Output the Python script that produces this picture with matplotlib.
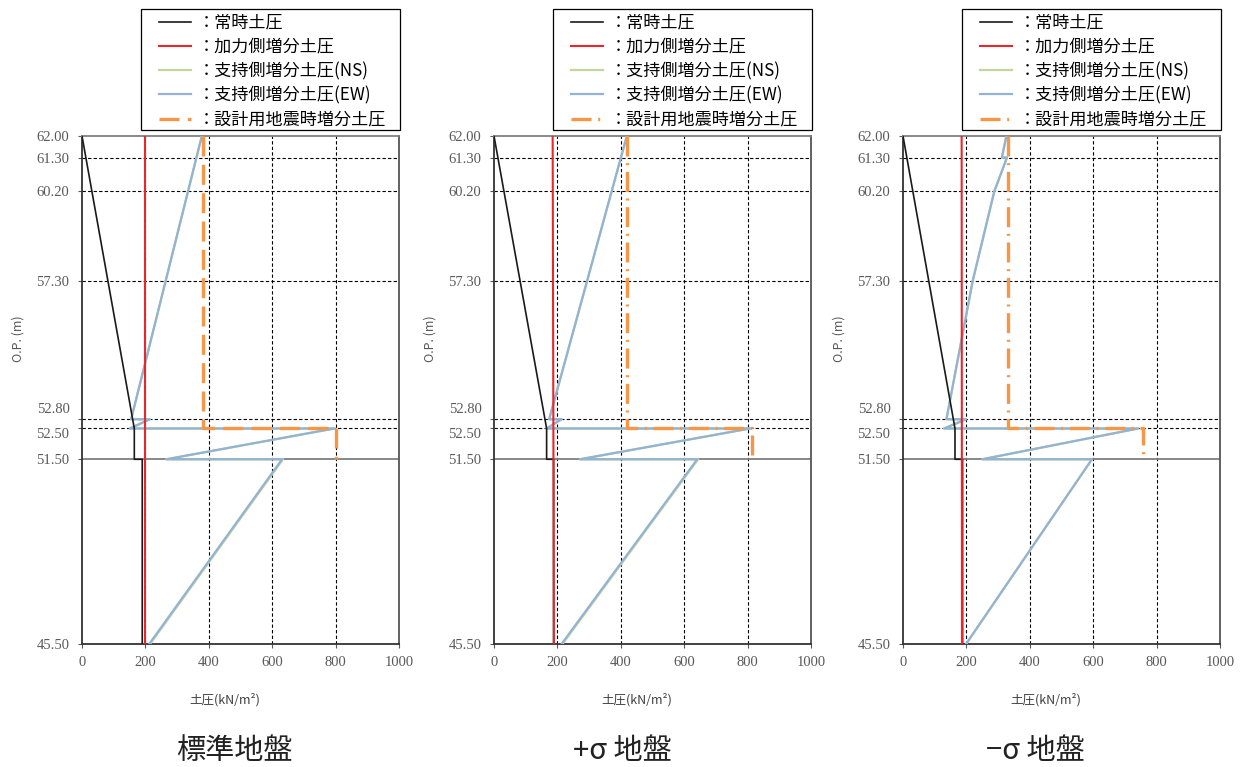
import matplotlib
matplotlib.use("Agg")
import matplotlib.pyplot as plt
from matplotlib.patches import Rectangle
from matplotlib.transforms import ScaledTranslation

plt.rcParams["font.family"] = ["Noto Sans CJK JP", "DejaVu Sans"]

# depth levels (O.P., m)
y_ticks = [62.00, 61.30, 60.20, 57.30, 52.80, 52.50, 51.50, 45.50]
x_ticks = [0, 200, 400, 600, 800, 1000]
grid_x = [200, 400, 600, 800]
grid_y = [61.30, 60.20, 57.30, 52.80, 52.50]
ground_y = 51.50

titles = ["標準地盤", "+σ 地盤", "−σ 地盤"]
labels = ["：常時土圧", "：加力側増分土圧", "：支持側増分土圧(NS)",
          "：支持側増分土圧(EW)", "：設計用地震時増分土圧"]

# 常時土圧
normal_y = [62.0, 52.5, 51.5, 51.5, 45.5]
normal_x = [
    [0, 165, 165, 190, 190],
    [0, 166, 166, 188, 188],
    [0, 164, 164, 188, 188],
]

# 加力側増分土圧
load_y = [62.0, 45.5]
load_x = [
    [200, 200],
    [185, 189],
    [185, 186],
]

# 支持側増分土圧 (NS / EW)
support_y = [
    [62.0, 52.8, 52.8, 52.5, 52.5, 51.5, 51.5, 45.5],
    [62.0, 52.8, 52.8, 52.5, 52.5, 51.5, 51.5, 45.5],
    [62.0, 61.3, 61.3, 60.2, 57.3, 52.8, 52.8, 52.5, 52.5, 51.5, 51.5, 45.5],
]
support_ew_x = [
    [378, 155, 214, 151, 796, 266, 631, 212],
    [419, 174, 213, 166, 808, 271, 641, 213],
    [326, 312, 328, 288, 220, 137, 199, 130, 742, 250, 596, 199],
]
support_ns_x = [
    [378, 155, 214, 151, 796, 266, 634, 215],
    [419, 174, 213, 166, 808, 271, 644, 216],
    [326, 312, 328, 288, 220, 137, 199, 130, 742, 250, 596, 199],
]

# 設計用地震時増分土圧
design_y = [62.0, 52.5, 52.5, 51.5]
design_x = [
    [381, 381, 801, 801],
    [421, 421, 813, 813],
    [330, 330, 756, 756],
]

C_BLACK = "#1a1a1a"
C_RED = "#e8262b"
C_NS = "#c3d69b"
C_EW = "#93b3d3"
C_ORANGE = "#f79646"
C_TICK = "#595959"

W, H = 1247, 767
fig = plt.figure(figsize=(W / 100, H / 100), dpi=100)
lefts = [82, 494, 903]
ax_w, ax_top, ax_bot = 317, 136, 644
title_cx = [234, 622, 1035]
design_ls = [(0, (6, 2.5)), (0, (6, 2, 0.6, 2)), (0, (6, 2, 0.6, 2))]
# nudges for the crowded tick labels (px)
label_shift = {52.80: 11, 52.50: -5}

for i in range(3):
    ax = fig.add_axes([lefts[i] / W, 1 - ax_bot / H, ax_w / W, (ax_bot - ax_top) / H])
    ax.set_xlim(0, 1000)
    ax.set_ylim(45.5, 62.0)

    for gx in grid_x:
        ax.axvline(gx, color="black", lw=0.8, ls=(0, (3, 2)), zorder=1)
    for gy in grid_y:
        ax.axhline(gy, color="black", lw=0.8, ls=(0, (3, 2)), zorder=1)
    ax.axhline(ground_y, color="#7f7f7f", lw=1.3, zorder=1)

    ax.plot(normal_x[i], normal_y, color=C_BLACK, lw=1.2, label=labels[0], zorder=4)
    ax.plot(load_x[i], load_y, color=C_RED, lw=1.5, label=labels[1], zorder=4)
    ax.plot(support_ns_x[i], support_y[i], color=C_NS, lw=1.6, label=labels[2], zorder=3)
    ax.plot(support_ew_x[i], support_y[i], color=C_EW, lw=1.6, label=labels[3], zorder=3)
    ax.plot(design_x[i], design_y, color=C_ORANGE, lw=2.4, ls=design_ls[i],
            label=labels[4], zorder=5)

    ax.set_yticks(y_ticks)
    ax.set_yticklabels([f"{v:.2f}" for v in y_ticks])
    ax.set_xticks(x_ticks)
    ax.set_xticklabels([str(v) for v in x_ticks])
    ax.tick_params(labelsize=10.5, colors=C_TICK, length=3, width=0.8, pad=6)
    for lab in ax.get_xticklabels() + ax.get_yticklabels():
        lab.set_family("Liberation Serif")
    for v, lab in zip(y_ticks, ax.get_yticklabels()):
        if v in label_shift:
            lab.set_transform(lab.get_transform() +
                              ScaledTranslation(0, label_shift[v] / 100, fig.dpi_scale_trans))

    ax.spines["left"].set_color("#333333")
    ax.spines["bottom"].set_color("#333333")
    ax.spines["top"].set_color("#7f7f7f")
    ax.spines["right"].set_color("#555555")
    for s in ax.spines.values():
        s.set_linewidth(1.3)

    # legend box drawn by hand so the padding can match the original
    box_r = lefts[i] + ax_w + 1
    box_l = box_r - 259
    fig.add_artist(Rectangle((box_l / W, 1 - 130 / H), 259 / W, 121 / H,
                             transform=fig.transFigure, facecolor="white",
                             edgecolor="black", lw=0.9, zorder=-1))
    ax.legend(loc="upper left", bbox_to_anchor=((box_l + 18) / W, 1 - 13.5 / H),
              bbox_transform=fig.transFigure, frameon=False, borderpad=0,
              borderaxespad=0, fontsize=12.3, handlelength=1.85,
              handletextpad=0.4, labelspacing=0.36)

    fig.text((lefts[i] + ax_w / 2 - 16) / W, 1 - 700 / H, "土圧(kN/m²)",
             ha="center", va="center", fontsize=9, color="#404040")
    fig.text((lefts[i] - 64) / W, 1 - 339 / H, "O.P. (m)", rotation=90,
             ha="center", va="center", fontsize=9, color=C_TICK)
    fig.text(title_cx[i] / W, 1 - 751 / H, titles[i], ha="center", va="center",
             fontsize=21, color="#222222")

fig.savefig("out.png", dpi=100)
